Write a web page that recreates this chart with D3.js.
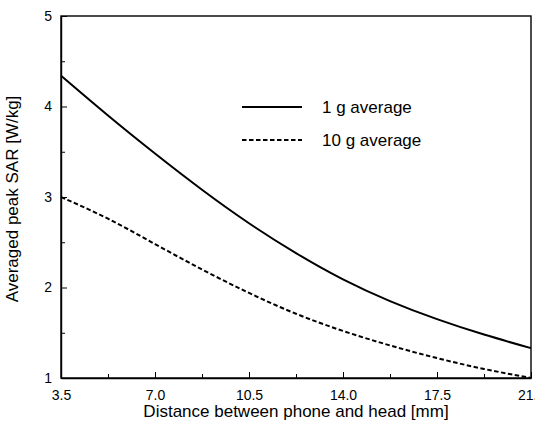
<!DOCTYPE html>
<html>
<head>
<meta charset="utf-8">
<script src="https://cdn.jsdelivr.net/npm/d3@7"></script>
<style>
  html, body { margin: 0; padding: 0; background: #fff; }
  svg { display: block; }
  text { font-family: "Liberation Sans", Arial, Helvetica, sans-serif; fill: #000; }
</style>
</head>
<body>
<svg id="chart" width="535" height="422"></svg>
<script>
// ---- data ----
const distances = [3.5, 5.25, 7.0, 8.75, 10.5, 12.25, 14.0, 15.75, 17.5, 19.25, 21.0];
const sar1g  = [4.34, 3.90, 3.48, 3.08, 2.71, 2.38, 2.09, 1.85, 1.65, 1.48, 1.33];
const sar10g = [3.00, 2.76, 2.48, 2.20, 1.94, 1.71, 1.52, 1.36, 1.22, 1.10, 1.00];
const seriesNames = ["1 g average", "10 g average"];
const xTickValues = [3.5, 7.0, 10.5, 14.0, 17.5, 21.0];
const xTickLabels = ["3.5", "7.0", "10.5", "14.0", "17.5", "21.0"];
const xMinorTicks = [5.25, 8.75, 12.25, 15.75, 19.25];
const yTickValues = [1, 2, 3, 4, 5];
const yMinorTicks = [1.5, 2.5, 3.5, 4.5];
const xTitle = "Distance between phone and head [mm]";
const yTitle = "Averaged peak SAR [W/kg]";

// ---- layout ----
const L = 61, R = 531, T = 16, B = 378;
const svg = d3.select("#chart");
const x = d3.scaleLinear().domain([3.5, 21]).range([L, R]);
const y = d3.scaleLinear().domain([1, 5]).range([B, T]);

// frame
svg.append("rect").attr("x", L).attr("y", T).attr("width", R - L).attr("height", B - T)
  .attr("fill", "none").attr("stroke", "#000").attr("stroke-width", 1.4);

// x axis (ticks inward)
const xAxis = d3.axisBottom(x).tickValues(xTickValues)
  .tickFormat((d, i) => xTickLabels[i]).tickSizeInner(-6).tickSizeOuter(0).tickPadding(12);
const gx = svg.append("g").attr("transform", `translate(0,${B})`).call(xAxis);
gx.select(".domain").attr("stroke-width", 1.4);
gx.selectAll(".tick line").attr("stroke-width", 1);
gx.selectAll("text").attr("font-size", 14).style("font-family", '"Liberation Sans", Arial, sans-serif');
const xMinor = d3.axisBottom(x).tickValues(xMinorTicks).tickFormat("").tickSizeInner(-4).tickSizeOuter(0);
const gxm = svg.append("g").attr("transform", `translate(0,${B})`).call(xMinor);
gxm.select(".domain").remove();

// y axis (ticks inward)
const yAxis = d3.axisLeft(y).tickValues(yTickValues).tickFormat(d3.format("d"))
  .tickSizeInner(-6).tickSizeOuter(0).tickPadding(9);
const gy = svg.append("g").attr("transform", `translate(${L},0)`).call(yAxis);
gy.select(".domain").attr("stroke-width", 1.4);
gy.selectAll(".tick line").attr("stroke-width", 1);
gy.selectAll("text").attr("font-size", 14).style("font-family", '"Liberation Sans", Arial, sans-serif');
const yMinor = d3.axisLeft(y).tickValues(yMinorTicks).tickFormat("").tickSizeInner(-4).tickSizeOuter(0);
const gym = svg.append("g").attr("transform", `translate(${L},0)`).call(yMinor);
gym.select(".domain").remove();

// curves
const line = d3.line().x((d, i) => x(distances[i])).y(d => y(d)).curve(d3.curveNatural);
svg.append("path").datum(sar1g).attr("d", line)
  .attr("fill", "none").attr("stroke", "#000").attr("stroke-width", 2);
svg.append("path").datum(sar10g).attr("d", line)
  .attr("fill", "none").attr("stroke", "#000").attr("stroke-width", 2)
  .attr("stroke-dasharray", "4.5,2.5");

// legend
const legend = svg.append("g");
const legendY = [107, 140];
const dashes = [null, "4.5,2.5"];
seriesNames.forEach((name, i) => {
  legend.append("line").attr("x1", 242).attr("x2", 302)
    .attr("y1", legendY[i]).attr("y2", legendY[i])
    .attr("stroke", "#000").attr("stroke-width", 2)
    .attr("stroke-dasharray", dashes[i]);
  legend.append("text").attr("x", 322).attr("y", legendY[i]).attr("dy", "0.35em")
    .attr("font-size", 17).text(name);
});

// axis titles
svg.append("text").attr("x", (L + R) / 2).attr("y", 417)
  .attr("text-anchor", "middle").attr("font-size", 17).text(xTitle);
svg.append("text").attr("transform", `translate(18,${(T + B) / 2 + 2}) rotate(-90)`)
  .attr("text-anchor", "middle").attr("font-size", 17).text(yTitle);
</script>
</body>
</html>
